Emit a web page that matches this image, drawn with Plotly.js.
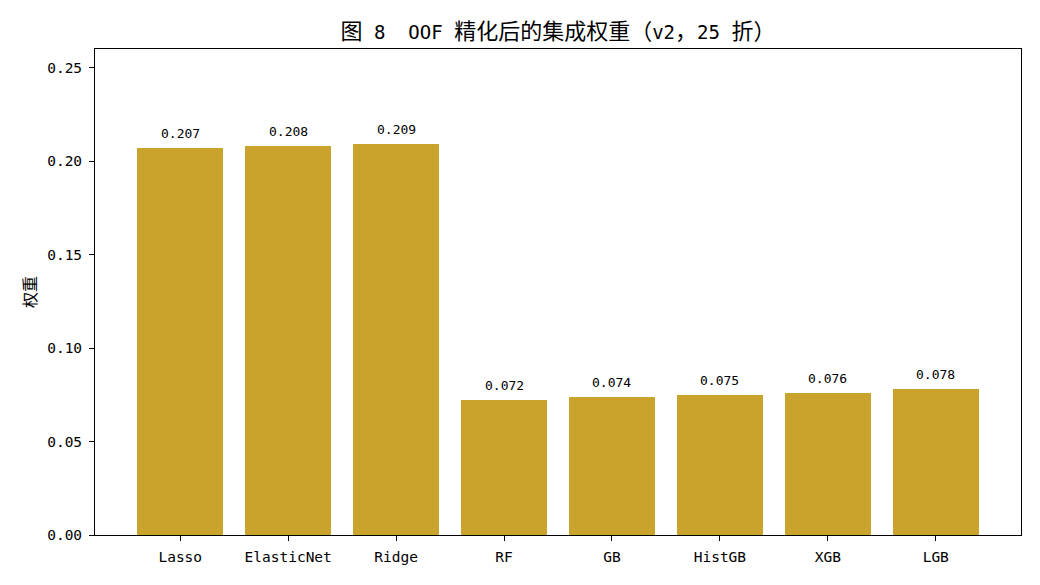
<!DOCTYPE html>
<html>
<head>
<meta charset="utf-8">
<script src="https://cdn.plot.ly/plotly-3.0.1.min.js"></script>
<style>html,body{margin:0;padding:0;background:#fff;}#chart{width:1040px;height:585px;}</style>
</head>
<body>
<div id="chart"></div>
<script>
const models = ["Lasso", "ElasticNet", "Ridge", "RF", "GB", "HistGB", "XGB", "LGB"];
const weights = [0.207, 0.208, 0.209, 0.072, 0.074, 0.075, 0.076, 0.078];
const yTicks = [0, 0.05, 0.10, 0.15, 0.20, 0.25];
const yTickLabels = ["0.00", "0.05", "0.10", "0.15", "0.20", "0.25"];

const FONT = '"DejaVu Sans Mono", "Noto Sans CJK SC", monospace';
const CJK = '"Noto Sans CJK SC", "DejaVu Sans", sans-serif';
const idx = models.map((_, i) => i);

const trace = {
  type: 'bar',
  x: idx,
  y: weights,
  width: 0.8,
  marker: {color: '#C9A32B'},
  hoverinfo: 'skip'
};

const annotations = weights.map((w, i) => ({
  x: i, y: w, xref: 'x', yref: 'y',
  text: w.toFixed(3), showarrow: false,
  yanchor: 'bottom', yshift: 5,
  font: {family: FONT, size: 13, color: '#000'}
}));

const NB = '\u00A0';
const cj = s => '<span style="font-family:Noto Sans CJK SC;font-size:22px">' + s + '</span>';
const titleText = cj('图') + NB + '8' + NB + NB + 'OOF' + NB + cj('精化后的集成权重（') + 'v2' + cj('，') + '25' + NB + cj('折）');

const layout = {
  width: 1040, height: 585,
  margin: {l: 95, r: 19, t: 49, b: 50},
  paper_bgcolor: '#fff', plot_bgcolor: '#fff',
  font: {family: FONT, size: 14, color: '#000'},
  title: {text: titleText, font: {family: FONT, size: 19, color: '#000'}, xref: 'paper', x: 0.5, xanchor: 'center', yref: 'container', y: 1 - 32/585, yanchor: 'middle'},
  showlegend: false,
  bargap: 0,
  xaxis: {
    range: [-0.79, 7.79], tickmode: 'array', tickvals: idx, ticktext: models,
    showgrid: false, zeroline: false, showline: true, linecolor: '#000', linewidth: 1, mirror: true,
    ticks: 'outside', ticklen: 5, tickcolor: '#000', tickfont: {family: FONT, size: 14.5},
    ticklabelstandoff: 4
  },
  yaxis: {
    range: [0, 0.26], tickmode: 'array', tickvals: yTicks, ticktext: yTickLabels,
    showgrid: false, zeroline: false, showline: true, linecolor: '#000', linewidth: 1, mirror: true,
    ticks: 'outside', ticklen: 5, tickcolor: '#000', tickfont: {family: FONT, size: 14.5},
    ticklabelstandoff: 4,
    title: {text: '权重', font: {family: CJK, size: 16}, standoff: 6}
  },
  annotations: annotations
};

Plotly.newPlot('chart', [trace], layout, {displayModeBar: false, staticPlot: true});
</script>
</body>
</html>
